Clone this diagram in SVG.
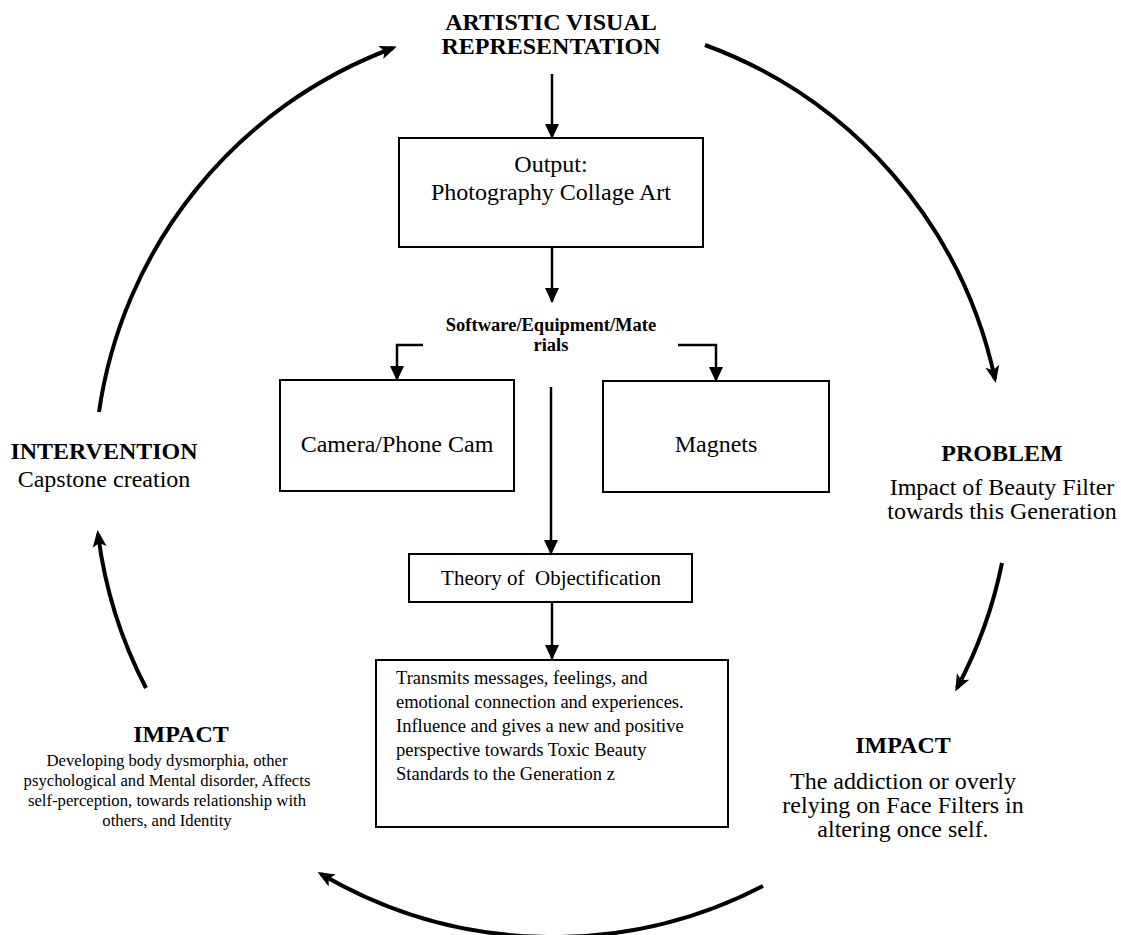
<svg xmlns="http://www.w3.org/2000/svg" width="1121" height="935" viewBox="0 0 1121 935">
<style>
text{font-family:"Liberation Serif","Times New Roman",serif;fill:#000}
.b{font-weight:bold;font-size:24px;text-anchor:middle}
.r{font-size:24px;text-anchor:middle}
.box{fill:#fff;stroke:#000;stroke-width:2}
.arc{fill:none;stroke:#000;stroke-width:4}
.ln{fill:none;stroke:#000;stroke-width:2.5}
</style>
<defs>
<marker id="stealth" markerUnits="userSpaceOnUse" markerWidth="20" markerHeight="16" refX="13" refY="7" orient="auto" overflow="visible">
<path d="M0,0 L17,7 L0,14 L4,7 z" fill="#000"/>
</marker>
<marker id="tri" markerUnits="userSpaceOnUse" markerWidth="16" markerHeight="16" refX="14" refY="7" orient="auto" overflow="visible">
<path d="M0,0 L15,7 L0,14 z" fill="#000"/>
</marker>
</defs>
<g id="connectors">
<path class="arc" d="M705,45 A458,458 0 0 1 995,379" marker-end="url(#stealth)"/>
<path class="arc" d="M1002,563 A458,458 0 0 1 957,688" marker-end="url(#stealth)"/>
<path class="arc" d="M763,886 A458,458 0 0 1 321,874" marker-end="url(#stealth)"/>
<path class="arc" d="M146,688 A458,458 0 0 1 98,534" marker-end="url(#stealth)"/>
<path class="arc" d="M99,412 A458,458 0 0 1 393,48" marker-end="url(#stealth)"/>
<path class="ln" d="M552,74 V138" marker-end="url(#tri)"/>
<path class="ln" d="M552,247 V302" marker-end="url(#tri)"/>
<path class="ln" d="M423,345 H397 V380" marker-end="url(#tri)"/>
<path class="ln" d="M678,345 H716 V381" marker-end="url(#tri)"/>
<path class="ln" d="M551,387 V554" marker-end="url(#tri)"/>
<path class="ln" d="M552,602 V659" marker-end="url(#tri)"/>
</g>
<g id="title">
<text class="b" x="551" y="30">ARTISTIC VISUAL</text>
<text class="b" x="551" y="54">REPRESENTATION</text>
</g>
<g id="output">
<rect class="box" x="399" y="138" width="304" height="109"/>
<text class="r" x="551" y="172">Output:</text>
<text class="r" x="551" y="200">Photography Collage Art</text>
</g>
<g id="software">
<text style="font-weight:bold;font-size:18.5px;text-anchor:middle" x="551" y="331">Software/Equipment/Mate</text>
<text style="font-weight:bold;font-size:18.5px;text-anchor:middle" x="551" y="351">rials</text>
</g>
<g id="camera">
<rect class="box" x="280" y="380" width="234" height="111"/>
<text class="r" x="397" y="452">Camera/Phone Cam</text>
</g>
<g id="magnets">
<rect class="box" x="603" y="381" width="226" height="111"/>
<text class="r" x="716" y="452">Magnets</text>
</g>
<g id="theory">
<rect class="box" x="409" y="554" width="283" height="48"/>
<text style="font-size:21px;text-anchor:middle;white-space:pre" x="551" y="585">Theory of  Objectification</text>
</g>
<g id="transmits">
<rect class="box" x="376" y="660" width="352" height="167"/>
<text style="font-size:18.5px" x="396" y="684">Transmits messages, feelings, and</text>
<text style="font-size:18.5px" x="396" y="708">emotional connection and experiences.</text>
<text style="font-size:18.5px" x="396" y="732">Influence and gives a new and positive</text>
<text style="font-size:18.5px" x="396" y="756">perspective towards Toxic Beauty</text>
<text style="font-size:18.5px" x="396" y="780">Standards to the Generation z</text>
</g>
<g id="intervention">
<text class="b" x="104" y="459">INTERVENTION</text>
<text class="r" x="104" y="487">Capstone creation</text>
</g>
<g id="problem">
<text class="b" x="1002" y="461">PROBLEM</text>
<text class="r" x="1002" y="495">Impact of Beauty Filter</text>
<text class="r" x="1002" y="519">towards this Generation</text>
</g>
<g id="impact-right">
<text class="b" x="903" y="753">IMPACT</text>
<text class="r" x="903" y="789">The addiction or overly</text>
<text class="r" x="903" y="813">relying on Face Filters in</text>
<text class="r" x="903" y="837">altering once self.</text>
</g>
<g id="impact-left">
<text class="b" x="181" y="742">IMPACT</text>
<text style="font-size:16.7px;text-anchor:middle" x="167" y="766">Developing body dysmorphia, other</text>
<text style="font-size:16.7px;text-anchor:middle" x="167" y="786">psychological and Mental disorder, Affects</text>
<text style="font-size:16.7px;text-anchor:middle" x="167" y="806">self-perception, towards relationship with</text>
<text style="font-size:16.7px;text-anchor:middle" x="167" y="826">others, and Identity</text>
</g>
</svg>
